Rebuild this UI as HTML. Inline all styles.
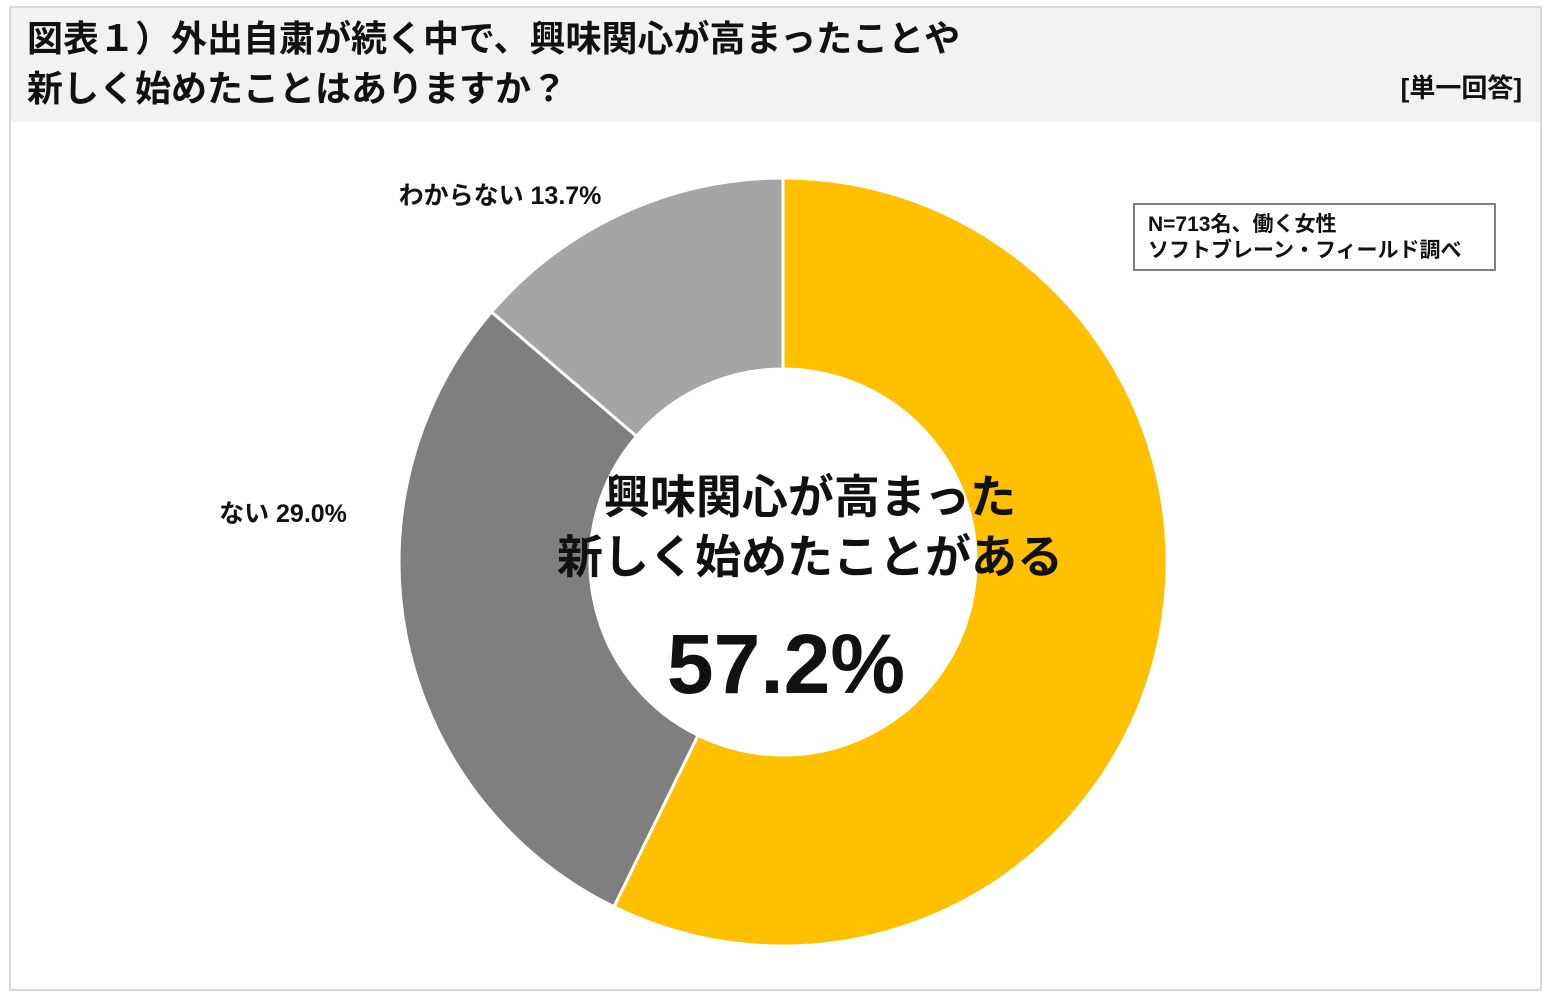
<!DOCTYPE html>
<html><head><meta charset="utf-8"><style>
body{margin:0;background:#fff;}
svg text{font-family:"Liberation Sans","Noto Sans CJK JP",sans-serif;}
</style></head><body>
<svg width="1543" height="991" viewBox="0 0 1543 991">
<rect x="10" y="7" width="1531" height="983" fill="#fff" stroke="#d9d9d9" stroke-width="2"/>
<rect x="11" y="8" width="1529" height="114" fill="#f2f2f2"/>
<text x="27" y="51" font-size="36" font-weight="bold" fill="#111">図表１）外出自粛が続く中で、興味関心が高まったことや</text>
<text x="27" y="101" font-size="36" font-weight="bold" fill="#111">新しく始めたことはありますか？</text>
<text x="1522" y="97" font-size="26" font-weight="bold" fill="#111" text-anchor="end">[単一回答]</text>
<g id="slices"></g>
<text x="500" y="204" font-size="25" font-weight="bold" fill="#111" text-anchor="middle">わからない 13.7%</text>
<text x="283" y="522" font-size="25" font-weight="bold" fill="#111" text-anchor="middle">ない 29.0%</text>
<text x="810" y="513" font-size="46" font-weight="bold" fill="#111" text-anchor="middle">興味関心が高まった</text>
<text x="810" y="573" font-size="46" font-weight="bold" fill="#111" text-anchor="middle">新しく始めたことがある</text>
<text x="786" y="693" font-size="84" font-weight="bold" fill="#111" text-anchor="middle">57.2%</text>
<rect x="1134" y="204" width="361" height="66" fill="#fff" stroke="#7f7f7f" stroke-width="2"/>
<text x="1148" y="231" font-size="21" font-weight="bold" fill="#111">N=713名、働く女性</text>
<text x="1148" y="257" font-size="21" font-weight="bold" fill="#111">ソフトブレーン・フィールド調べ</text>
</svg>
<script>
const categories=["ある","ない","わからない"];
const values=[57.2,29.0,13.7];
const colors=["#ffc000","#7f7f7f","#a5a5a5"];
const cx=783,cy=562,R=384,r=193;
const g=document.getElementById('slices');
const total=values.reduce((a,b)=>a+b,0);
let a0=0;
function pt(a,rad){return [cx+rad*Math.sin(a),cy-rad*Math.cos(a)];}
values.forEach((v,i)=>{
  const a1=a0+v/total*2*Math.PI;
  const large=(a1-a0)>Math.PI?1:0;
  const p1=pt(a0,R),p2=pt(a1,R),p3=pt(a1,r),p4=pt(a0,r);
  const p=document.createElementNS('http://www.w3.org/2000/svg','path');
  p.setAttribute('d',`M${p1[0]},${p1[1]} A${R},${R} 0 ${large} 1 ${p2[0]},${p2[1]} L${p3[0]},${p3[1]} A${r},${r} 0 ${large} 0 ${p4[0]},${p4[1]} Z`);
  p.setAttribute('fill',colors[i]);
  p.setAttribute('stroke','#fff');
  p.setAttribute('stroke-width','3');
  
  
  g.appendChild(p);
  a0=a1;
});
</script>
</body></html>
